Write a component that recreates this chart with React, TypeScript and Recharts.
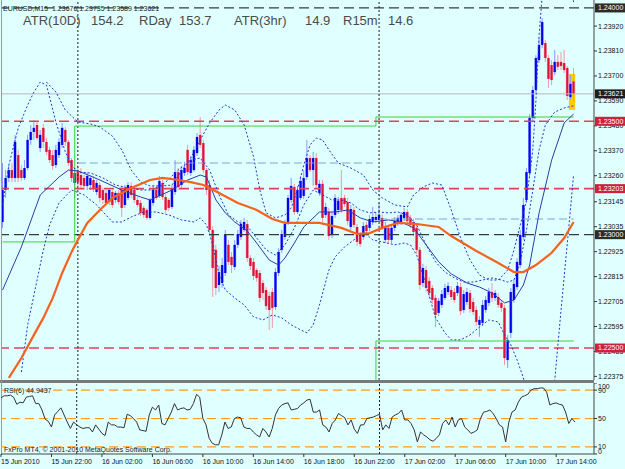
import React from "react";
import {
  ComposedChart,
  Bar,
  Line,
  XAxis,
  YAxis,
  ReferenceLine,
  ReferenceArea,
} from "recharts";

const FONT = '"Liberation Sans", Arial, sans-serif';
const BG = "#e0ffff";

// EURUSD M15, first bar 15 Jun 18:00, last bar 17 Jun 15:30
const open = [
  1.23056, 1.23197, 1.2325, 1.23285, 1.2325, 1.23351, 1.23285, 1.2325, 1.23294, 1.23418,
  1.23453, 1.23484, 1.23382, 1.23471, 1.23409, 1.23374, 1.23351, 1.23307, 1.23351, 1.23396,
  1.23462, 1.23409, 1.23329, 1.23228, 1.23276, 1.23263, 1.2325, 1.23215, 1.23219, 1.23241,
  1.23188, 1.23219, 1.23197, 1.23184, 1.23144, 1.23188, 1.23153, 1.23184, 1.23197, 1.23131,
  1.23162, 1.23215, 1.23197, 1.23153, 1.2314, 1.23118, 1.23109, 1.23074, 1.2314, 1.23197,
  1.23171, 1.23228, 1.23166, 1.23153, 1.23122, 1.23188, 1.23276, 1.23219, 1.23272, 1.23374,
  1.23272, 1.23285, 1.2336, 1.2344, 1.23404, 1.23285, 1.23219, 1.23021, 1.22933, 1.22778,
  1.22787, 1.22831, 1.22955, 1.22902, 1.22858, 1.22955, 1.2299, 1.23021, 1.23047, 1.22897,
  1.2288, 1.22844, 1.22831, 1.22787, 1.22756, 1.2273, 1.22747, 1.22681, 1.22831, 1.22933,
  1.2299, 1.23056, 1.23153, 1.2321, 1.231, 1.23162, 1.23171, 1.23254, 1.23338, 1.23285,
  1.23338, 1.23184, 1.23224, 1.23087, 1.231, 1.22999, 1.23087, 1.23109, 1.23162, 1.23162,
  1.23144, 1.23034, 1.23109, 1.23034, 1.22999, 1.2299, 1.23043, 1.2303, 1.23056, 1.23065,
  1.23065, 1.23074, 1.22977, 1.2303, 1.22977, 1.2303, 1.23052, 1.23056, 1.23074, 1.231,
  1.23074, 1.23056, 1.2303, 1.22933, 1.22787, 1.22844, 1.22796, 1.22765, 1.22721, 1.22655,
  1.2269, 1.22721, 1.22747, 1.22756, 1.22747, 1.22743, 1.22769, 1.22668, 1.22703, 1.22743,
  1.22703, 1.22668, 1.22602, 1.22611, 1.22668, 1.22699, 1.22747, 1.22721, 1.22725, 1.22699,
  1.22677, 1.22447, 1.22567, 1.22712, 1.22769, 1.22866, 1.2299, 1.23153, 1.23272, 1.23515,
  1.23638, 1.2377, 1.23837, 1.23845, 1.23779, 1.23748, 1.23717, 1.23762, 1.23762, 1.23757,
  1.23735, 1.23607, 1.23676,
];
const high = [
  1.23316, 1.23285, 1.23307, 1.23316, 1.2344, 1.23374, 1.23307, 1.23329, 1.2344, 1.23484,
  1.23506, 1.23501, 1.23462, 1.23488, 1.23426, 1.23387, 1.23374, 1.23396, 1.23426, 1.23493,
  1.23475, 1.23418, 1.23338, 1.23294, 1.23307, 1.23294, 1.23263, 1.23276, 1.23263, 1.23259,
  1.23241, 1.23232, 1.23206, 1.23197, 1.23206, 1.23197, 1.23193, 1.23197, 1.23215, 1.23219,
  1.23232, 1.23232, 1.23206, 1.23166, 1.23153, 1.23127, 1.23118, 1.23162, 1.23215, 1.23215,
  1.23259, 1.23241, 1.23179, 1.23162, 1.23219, 1.23329, 1.23294, 1.23303, 1.23321, 1.23396,
  1.23347, 1.23391, 1.23448, 1.23519, 1.23418, 1.23294, 1.23241, 1.23038, 1.22955, 1.22862,
  1.22897, 1.23021, 1.22977, 1.22924, 1.22977, 1.23021, 1.23065, 1.23074, 1.23065, 1.2291,
  1.22897, 1.22853, 1.22844, 1.228, 1.22769, 1.22747, 1.22765, 1.22853, 1.22941, 1.23021,
  1.23065, 1.23175, 1.2325, 1.23224, 1.23215, 1.23259, 1.23285, 1.23418, 1.23351, 1.23365,
  1.2336, 1.23241, 1.23241, 1.2314, 1.23118, 1.231, 1.23179, 1.23166, 1.23285, 1.23175,
  1.23162, 1.23131, 1.23122, 1.23047, 1.23012, 1.23056, 1.23056, 1.23087, 1.23122, 1.231,
  1.2314, 1.23091, 1.23056, 1.23043, 1.23047, 1.23078, 1.23087, 1.231, 1.23118, 1.23113,
  1.23087, 1.23069, 1.23047, 1.22946, 1.22871, 1.22862, 1.22813, 1.22778, 1.22734, 1.22721,
  1.22756, 1.22783, 1.22791, 1.22774, 1.22765, 1.22791, 1.22787, 1.22756, 1.22765, 1.22756,
  1.22721, 1.22685, 1.22641, 1.22712, 1.2273, 1.22765, 1.22787, 1.22756, 1.22743, 1.22712,
  1.2269, 1.22558, 1.22765, 1.228, 1.22897, 1.23021, 1.23162, 1.23294, 1.23532, 1.23656,
  1.23792, 1.23867, 1.23956, 1.23859, 1.23792, 1.2377, 1.23815, 1.23792, 1.23806, 1.23815,
  1.23744, 1.23704, 1.23735,
];
const low = [
  1.2303, 1.23162, 1.23232, 1.23232, 1.23232, 1.23232, 1.23237, 1.23241, 1.23285, 1.23396,
  1.23418, 1.23418, 1.23365, 1.23382, 1.23351, 1.23316, 1.23285, 1.23294, 1.23338, 1.23382,
  1.23391, 1.23303, 1.23232, 1.23162, 1.23215, 1.23206, 1.23197, 1.23197, 1.23197, 1.23188,
  1.23175, 1.23144, 1.23135, 1.23127, 1.23131, 1.23118, 1.2314, 1.23131, 1.23078, 1.23118,
  1.23153, 1.23162, 1.2314, 1.23122, 1.23082, 1.23074, 1.23065, 1.23065, 1.23127, 1.23153,
  1.23162, 1.23153, 1.23096, 1.23104, 1.23113, 1.23175, 1.23197, 1.23206, 1.23259, 1.23263,
  1.23259, 1.23276, 1.23347, 1.23382, 1.23272, 1.23175, 1.22999, 1.22725, 1.22734, 1.22747,
  1.22765, 1.22818, 1.22866, 1.22831, 1.22844, 1.22941, 1.22977, 1.23012, 1.2288, 1.22844,
  1.228, 1.22791, 1.22703, 1.22712, 1.22668, 1.2258, 1.22589, 1.22668, 1.22818, 1.2292,
  1.22977, 1.23043, 1.2314, 1.23087, 1.23091, 1.23153, 1.23157, 1.23241, 1.23276, 1.23215,
  1.23206, 1.23171, 1.23056, 1.23074, 1.22977, 1.22985, 1.23074, 1.23091, 1.23096, 1.23122,
  1.23043, 1.23021, 1.2303, 1.2295, 1.22946, 1.22977, 1.23003, 1.23016, 1.23043, 1.23052,
  1.23056, 1.23021, 1.22963, 1.22963, 1.22963, 1.23016, 1.23038, 1.23043, 1.2306, 1.23047,
  1.2303, 1.22994, 1.22915, 1.22756, 1.22769, 1.22747, 1.22725, 1.22694, 1.22593, 1.22641,
  1.22677, 1.22712, 1.22734, 1.22712, 1.22699, 1.2273, 1.22646, 1.22655, 1.2269, 1.22655,
  1.22646, 1.22597, 1.22549, 1.22597, 1.22655, 1.22685, 1.22703, 1.22708, 1.22677, 1.22659,
  1.22425, 1.22412, 1.22544, 1.22699, 1.22756, 1.22853, 1.22977, 1.2314, 1.23259, 1.23497,
  1.23625, 1.23757, 1.23823, 1.23762, 1.23647, 1.2366, 1.23704, 1.23726, 1.23726, 1.23713,
  1.23594, 1.23594, 1.23589,
];
const close = [
  1.23197, 1.2325, 1.23285, 1.2325, 1.23409, 1.2325, 1.2325, 1.23294, 1.23418, 1.23453,
  1.23471, 1.23426, 1.2344, 1.23409, 1.23365, 1.23329, 1.23303, 1.23374, 1.23409, 1.23471,
  1.23409, 1.23316, 1.2325, 1.23272, 1.23232, 1.23219, 1.23215, 1.23259, 1.2325, 1.23206,
  1.23228, 1.23162, 1.23153, 1.2314, 1.23197, 1.23131, 1.23184, 1.23144, 1.23118, 1.23206,
  1.23219, 1.23175, 1.23153, 1.23131, 1.23096, 1.23087, 1.23074, 1.23153, 1.23197, 1.23162,
  1.23237, 1.23166, 1.23109, 1.23118, 1.23206, 1.23276, 1.2321, 1.23285, 1.23294, 1.23276,
  1.23329, 1.23374, 1.23431, 1.23396, 1.23285, 1.23197, 1.23021, 1.22853, 1.22765, 1.22835,
  1.22866, 1.22999, 1.2288, 1.22866, 1.22955, 1.23003, 1.23047, 1.23056, 1.22897, 1.22862,
  1.22818, 1.22809, 1.22721, 1.22743, 1.22685, 1.22668, 1.22677, 1.22835, 1.22924, 1.23003,
  1.23047, 1.23162, 1.23215, 1.231, 1.23197, 1.23237, 1.2325, 1.23338, 1.23285, 1.23338,
  1.23219, 1.23224, 1.23074, 1.23122, 1.22994, 1.23082, 1.23162, 1.23149, 1.23109, 1.23135,
  1.2306, 1.23113, 1.23043, 1.22968, 1.22959, 1.23038, 1.23016, 1.23069, 1.23078, 1.23078,
  1.23087, 1.23034, 1.23038, 1.22977, 1.2303, 1.2306, 1.23074, 1.23087, 1.231, 1.2306,
  1.23043, 1.23012, 1.22933, 1.22778, 1.22853, 1.22765, 1.22743, 1.22712, 1.22646, 1.22708,
  1.22738, 1.22765, 1.22774, 1.22725, 1.22712, 1.22774, 1.22663, 1.22738, 1.22747, 1.22672,
  1.22659, 1.22615, 1.22624, 1.2269, 1.22712, 1.22747, 1.22721, 1.22743, 1.2269, 1.22677,
  1.22456, 1.22536, 1.22747, 1.22783, 1.2288, 1.22999, 1.23131, 1.23276, 1.23515, 1.23638,
  1.23779, 1.23837, 1.23938, 1.23779, 1.23687, 1.23682, 1.23762, 1.2374, 1.23744, 1.23726,
  1.23612, 1.23665, 1.23621,
];

const rsi6 = [
  79, 82, 82, 83, 80, 70, 73, 72, 80, 81, 82, 71, 71, 62, 49, 46, 38, 55, 60, 65,
  55, 45, 36, 45, 41, 38, 36, 37, 37, 31, 41, 35, 29, 26, 45, 41, 41, 38, 38, 37,
  56, 54, 50, 45, 34, 33, 32, 55, 66, 62, 69, 43, 41, 50, 59, 71, 62, 64, 65, 62,
  63, 71, 84, 80, 50, 41, 22, 15, 13, 13, 27, 45, 36, 38, 50, 52, 51, 38, 36, 36,
  31, 27, 24, 36, 31, 24, 36, 55, 64, 69, 71, 72, 62, 63, 64, 69, 72, 76, 77, 59,
  59, 62, 41, 38, 31, 43, 48, 57, 54, 51, 41, 48, 35, 29, 41, 41, 50, 51, 52, 54,
  56, 34, 41, 36, 52, 55, 57, 62, 48, 48, 43, 34, 17, 31, 27, 24, 20, 18, 22, 27,
  43, 48, 41, 52, 38, 48, 50, 38, 34, 29, 31, 34, 50, 59, 60, 62, 57, 50, 41, 38,
  17, 45, 59, 62, 73, 80, 82, 84, 90, 92, 92, 93, 93, 87, 69, 71, 72, 70, 69, 59,
  43, 50, 44.9437,
];

// indicator lines as [bar, price]
const slowMa: [number, number][] = [
  [2, 1.22368], [6, 1.22456], [10, 1.22558], [13, 1.22633], [16, 1.22721], [19, 1.22831],
  [22, 1.22924], [24, 1.22977], [27, 1.23052], [31, 1.23109], [35, 1.23162], [41, 1.23206],
  [47, 1.23241], [51, 1.2325], [56, 1.23241], [60, 1.23232], [64, 1.23219], [69, 1.23184],
  [75, 1.2314], [81, 1.23109], [86, 1.23069], [90, 1.23052], [95, 1.23052], [101, 1.23052],
  [108, 1.2303], [113, 1.23003], [117, 1.23007], [121, 1.2303], [126, 1.23052], [132, 1.23047],
  [139, 1.23034], [143, 1.22994], [151, 1.22928], [158, 1.22875], [163, 1.22835], [166, 1.22835],
  [170, 1.22866], [175, 1.2292], [179, 1.22985], [182, 1.23056],
];
const fastMa: [number, number][] = [
  [0, 1.22756], [6, 1.22946], [12, 1.23175], [18, 1.23254], [21, 1.23285], [24, 1.23281],
  [28, 1.23259], [31, 1.23241], [38, 1.23197], [44, 1.23166], [47, 1.23153], [54, 1.23197],
  [59, 1.23241], [63, 1.23263], [65, 1.23254], [68, 1.23153], [71, 1.23096], [74, 1.23056],
  [78, 1.23016], [81, 1.22963], [85, 1.22888], [88, 1.22866], [90, 1.22897], [93, 1.22963],
  [96, 1.23034], [101, 1.231], [106, 1.231], [110, 1.23109], [114, 1.23074], [118, 1.23056],
  [123, 1.23065], [127, 1.23056], [131, 1.2303], [135, 1.22955], [139, 1.2288], [143, 1.22827],
  [148, 1.22787], [152, 1.22769], [156, 1.22743], [160, 1.22699], [163, 1.22712], [166, 1.22778],
  [168, 1.22866], [171, 1.23096], [175, 1.23329], [179, 1.23493], [182, 1.23532],
];
const bandUpper: [number, number][] = [
  [14, 1.23673], [17, 1.23629], [20, 1.2355], [24, 1.23497], [28, 1.23488], [31, 1.23475],
  [35, 1.23435], [38, 1.23374], [41, 1.23285], [44, 1.23232], [47, 1.23215], [51, 1.23215],
  [54, 1.23219], [57, 1.2328], [60, 1.23338], [63, 1.23418], [66, 1.23493], [69, 1.2355],
  [71, 1.23572], [74, 1.2355], [77, 1.23484], [80, 1.23343], [82, 1.23197], [84, 1.23096],
  [87, 1.23074], [90, 1.23087], [92, 1.23118], [94, 1.232], [96, 1.23307], [98, 1.23396],
  [100, 1.23426], [102, 1.23418], [104, 1.23374], [107, 1.23316], [111, 1.23294], [115, 1.23263],
  [118, 1.23197], [121, 1.23162], [125, 1.23131], [129, 1.23122], [131, 1.23175], [134, 1.2321],
  [137, 1.23228], [140, 1.23219], [143, 1.23109], [146, 1.22985], [149, 1.22888], [152, 1.22822],
  [155, 1.228], [158, 1.228], [161, 1.22844], [163, 1.22933], [165, 1.23043], [167, 1.23153],
  [169, 1.23374], [170, 1.23594], [171, 1.23881], [172, 1.24057], [174, 1.24211], [178, 1.24233],
  [181, 1.24123], [182, 1.24026],
];
const bandInner: [number, number][] = [
  [0, 1.23131], [2, 1.23307], [5, 1.23471], [8, 1.23572], [10, 1.23629], [12, 1.23673],
  [14, 1.2366], [17, 1.23497], [20, 1.23365], [22, 1.23307], [24, 1.23276], [28, 1.23272],
  [32, 1.2325], [36, 1.23219], [40, 1.23206], [44, 1.23197], [48, 1.23197], [52, 1.23232],
  [56, 1.23285], [60, 1.23329], [63, 1.23338], [66, 1.23285], [69, 1.23175], [72, 1.23087],
  [75, 1.23056], [78, 1.23038], [81, 1.22985], [84, 1.22933], [87, 1.2291], [90, 1.22955],
  [93, 1.2303], [96, 1.23131], [99, 1.23197], [102, 1.23175], [105, 1.23153], [108, 1.23153],
  [111, 1.2314], [114, 1.23109], [117, 1.23096], [120, 1.231], [123, 1.23096], [126, 1.231],
  [129, 1.23087], [132, 1.23043], [135, 1.22955], [138, 1.2288], [141, 1.22835], [144, 1.22809],
  [147, 1.22791], [150, 1.22791], [153, 1.228], [156, 1.22809], [159, 1.228], [161, 1.22791],
  [163, 1.228], [165, 1.2288], [167, 1.23021], [169, 1.23197], [171, 1.23374], [173, 1.23484],
  [176, 1.23541], [179, 1.23559], [182, 1.23568],
];
const bandLower: [number, number][] = [
  [6, 1.22394], [8, 1.22602], [11, 1.228], [13, 1.22933], [15, 1.23043], [18, 1.2314],
  [22, 1.23197], [26, 1.23175], [30, 1.23131], [35, 1.23056], [38, 1.23056], [41, 1.23078],
  [45, 1.231], [49, 1.231], [53, 1.23087], [57, 1.23065], [61, 1.23056], [63, 1.23074],
  [65, 1.23043], [67, 1.22955], [69, 1.22822], [71, 1.22756], [74, 1.22721], [77, 1.2269],
  [80, 1.22637], [83, 1.22624], [86, 1.22646], [89, 1.22633], [92, 1.22602], [95, 1.2258],
  [97, 1.22567], [99, 1.22602], [101, 1.2269], [104, 1.22844], [106, 1.22902], [109, 1.22946],
  [112, 1.22977], [115, 1.23012], [118, 1.22977], [121, 1.22968], [125, 1.22955], [128, 1.22963],
  [130, 1.22955], [132, 1.2291], [135, 1.22778], [138, 1.22633], [141, 1.22567], [143, 1.22536],
  [146, 1.22536], [149, 1.22558], [152, 1.22593], [155, 1.22624], [158, 1.22615], [160, 1.22558],
  [162, 1.22514], [164, 1.22447], [166, 1.22368], [168, 1.22222], [171, 1.22046], [174, 1.22095],
  [176, 1.22359], [178, 1.22668], [180, 1.22963], [182, 1.23263],
];

// [fromBar, toBar, price]
const greenUpper = [[0, 23, 1.22968], [24, 119, 1.23479], [120, 182, 1.23519]];
const greenLower = [[24, 119, 1.223], [120, 182, 1.22531]];
const dayRefs = [[24, 118, 1.23316], [120, 182, 1.23069]];

const redLevels = [1.235, 1.23203, 1.225];
const darkLevels = [1.24, 1.23];
const lastPrice = 1.23621;
const daySeparators = [24, 120];
const highlight = { x1: 181, x2: 182, y1: 1.2355, y2: 1.23709 };

const priceTicks = [
  1.2392, 1.2381, 1.237, 1.2359, 1.2348, 1.2337, 1.2326, 1.23145, 1.23035, 1.22925,
  1.22815, 1.22705, 1.22595, 1.22485, 1.22375,
];
const boxedLevels = [
  { value: 1.24, color: "#2e2a24" },
  { value: 1.23621, color: "#1e1e1e" },
  { value: 1.235, color: "#d11f3e" },
  { value: 1.23203, color: "#d11f3e" },
  { value: 1.23, color: "#2e2a24" },
  { value: 1.225, color: "#d11f3e" },
];

const timeTicks = [0, 16, 32, 48, 64, 80, 96, 112, 128, 144, 160, 176];
const timeLabels = [
  "15 Jun 2010", "15 Jun 22:00", "16 Jun 02:00", "16 Jun 06:00", "16 Jun 10:00",
  "16 Jun 14:00", "16 Jun 18:00", "16 Jun 22:00", "17 Jun 02:00", "17 Jun 06:00",
  "17 Jun 10:00", "17 Jun 14:00",
];
const rsiLevels = [90, 50, 10];
const rsiTicks = [100, 90, 50, 10, 0];

const SLOTS = 189;

const pick = (segs: number[][], i: number) => {
  for (const [a, b, v] of segs) if (i >= a && i <= b) return v;
  return null;
};
const slowMap = new Map(slowMa);
const fastMap = new Map(fastMa);
const upMap = new Map(bandUpper);
const inMap = new Map(bandInner);
const loMap = new Map(bandLower);

const rows = Array.from({ length: SLOTS }, (_, i) => {
  const has = i < close.length;
  return {
    i,
    o: has ? open[i] : null,
    h: has ? high[i] : null,
    l: has ? low[i] : null,
    c: has ? close[i] : null,
    hl: has ? [low[i], high[i]] : null,
    rsi: has ? rsi6[i] : null,
    slow: slowMap.get(i) ?? null,
    fast: fastMap.get(i) ?? null,
    up: upMap.get(i) ?? null,
    inner: inMap.get(i) ?? null,
    lo: loMap.get(i) ?? null,
    gTop: pick(greenUpper, i),
    gLow: pick(greenLower, i),
    dref: pick(dayRefs, i),
  };
});

function Candle(props: any) {
  const { x, y, width, height, payload } = props;
  if (!payload || payload.o == null || x == null) return <g />;
  const cx = x + width / 2;
  const span = payload.h - payload.l || 1e-9;
  const py = (v: number) => y + ((payload.h - v) / span) * height;
  const up = payload.c >= payload.o;
  const top = py(Math.max(payload.o, payload.c));
  const bh = Math.max(py(Math.min(payload.o, payload.c)) - top, 1);
  const light = up ? "#8f98ff" : "#f09aa6";
  const dark = up ? "#0000ee" : "#dc143c";
  return (
    <g>
      <rect x={cx - 0.5} y={y} width={1} height={Math.max(height, 1)} fill={light} />
      <rect x={cx - 1.5} y={top} width={3} height={bh} fill={light} />
      <rect x={cx - 1} y={top} width={2} height={bh} fill={dark} />
    </g>
  );
}

function PriceTick(p: any) {
  const v = p.payload.value;
  const ax = p.x - 8;
  const box = boxedLevels.find((b) => Math.abs(b.value - v) < 1e-7);
  if (box) {
    return (
      <g>
        <rect x={ax + 1} y={p.y - 4.5} width={31} height={9} fill={box.color} />
        <text x={ax + 4} y={p.y} dy="0.35em" fontSize={7} fill="#ffffff" fontFamily={FONT}>
          {v.toFixed(5)}
        </text>
      </g>
    );
  }
  return (
    <g>
      <line x1={ax} x2={ax + 3} y1={p.y} y2={p.y} stroke="#333" />
      <text x={ax + 4} y={p.y} dy="0.35em" fontSize={7} fill="#111" fontFamily={FONT}>
        {v.toFixed(5)}
      </text>
    </g>
  );
}

function RsiTick(p: any) {
  const v = p.payload.value;
  const ax = p.x - 8;
  const shift = v === 100 ? 4 : v === 0 ? -2 : 0;
  return (
    <g>
      <line x1={ax} x2={ax + 3} y1={p.y} y2={p.y} stroke="#333" />
      <text x={ax + 4} y={p.y + shift} dy="0.35em" fontSize={7} fill="#111" fontFamily={FONT}>
        {v}
      </text>
    </g>
  );
}

function TimeTick(p: any) {
  const label = timeLabels[timeTicks.indexOf(p.payload.value)];
  return (
    <g>
      <line x1={p.x} x2={p.x} y1={p.y - 8} y2={p.y - 5} stroke="#333" />
      <text x={p.x} y={p.y} dy={2} fontSize={7} fill="#111" fontFamily={FONT}>
        {label}
      </text>
    </g>
  );
}

const dotted = { stroke: "#2136c8", strokeWidth: 1, strokeDasharray: "2 2" };

const small: React.CSSProperties = {
  position: "absolute",
  fontFamily: FONT,
  fontSize: 7,
  color: "#222",
  whiteSpace: "nowrap",
  lineHeight: 1,
};
const big: React.CSSProperties = {
  position: "absolute",
  fontFamily: FONT,
  fontSize: 13,
  color: "#4a4a4a",
  whiteSpace: "nowrap",
  lineHeight: 1,
  top: 14,
};

export default function App() {
  return (
    <div
      style={{
        position: "absolute",
        left: 0,
        top: 0,
        width: 625,
        height: 469,
        background: BG,
        overflow: "hidden",
        fontFamily: FONT,
      }}
    >
      <div style={{ position: "absolute", left: 0, top: 0 }}>
        <ComposedChart width={625} height={380} data={rows} margin={{ top: 0, right: 0, bottom: 0, left: 1 }}>
          <XAxis dataKey="i" type="category" hide />
          <YAxis
            orientation="right"
            width={31}
            domain={[1.22359, 1.24035]}
            allowDataOverflow
            ticks={[...priceTicks, ...boxedLevels.map((b) => b.value)]}
            interval={0}
            tick={(p: any) => <PriceTick {...p} />}
            tickLine={false}
            axisLine={{ stroke: "#444" }}
          />
          <ReferenceArea
            x1={highlight.x1}
            x2={highlight.x2}
            y1={highlight.y1}
            y2={highlight.y2}
            fill="#ffcc00"
            fillOpacity={1}
            stroke="none"
          />
          <ReferenceLine y={lastPrice} stroke="#b8b8b8" />
          {darkLevels.map((v) => (
            <ReferenceLine key={v} y={v} stroke="#3a3a3a" strokeWidth={1.3} strokeDasharray="10 5" />
          ))}
          {redLevels.map((v) => (
            <ReferenceLine key={v} y={v} stroke="#e2405c" strokeWidth={1.6} strokeDasharray="10 5" />
          ))}
          {daySeparators.map((x) => (
            <ReferenceLine key={x} x={x} stroke="#222" strokeDasharray="2 2" />
          ))}
          <Line dataKey="dref" stroke="#7f9fd6" strokeDasharray="8 4" dot={false} isAnimationActive={false} />
          <Line dataKey="gTop" type="stepBefore" stroke="#3ccf3c" dot={false} isAnimationActive={false} />
          <Line dataKey="gLow" type="stepBefore" stroke="#3ccf3c" dot={false} isAnimationActive={false} />
          <Bar dataKey="hl" barSize={3} isAnimationActive={false} shape={(p: any) => <Candle {...p} />} />
          <Line dataKey="up" {...dotted} connectNulls dot={false} isAnimationActive={false} />
          <Line dataKey="inner" {...dotted} connectNulls dot={false} isAnimationActive={false} />
          <Line dataKey="lo" {...dotted} connectNulls dot={false} isAnimationActive={false} />
          <Line dataKey="fast" stroke="#2c3ca6" strokeWidth={1} connectNulls dot={false} isAnimationActive={false} />
          <Line dataKey="slow" stroke="#f4621e" strokeWidth={2.2} connectNulls dot={false} isAnimationActive={false} />
        </ComposedChart>
      </div>

      <div style={{ position: "absolute", left: 0, top: 380, width: 594, height: 3, background: "#7a7a7a" }} />
      <div style={{ position: "absolute", left: 1, top: 0, width: 1, height: 455, background: "#9a9a9a" }} />

      <div style={{ position: "absolute", left: 0, top: 383 }}>
        <ComposedChart width={625} height={86} data={rows} margin={{ top: 0, right: 0, bottom: 0, left: 1 }}>
          <XAxis
            dataKey="i"
            type="category"
            ticks={timeTicks}
            interval={0}
            height={15}
            tick={(p: any) => <TimeTick {...p} />}
            tickLine={false}
            axisLine={{ stroke: "#444" }}
          />
          <YAxis
            orientation="right"
            width={31}
            domain={[0, 100]}
            ticks={rsiTicks}
            interval={0}
            tick={(p: any) => <RsiTick {...p} />}
            tickLine={false}
            axisLine={{ stroke: "#444" }}
          />
          {rsiLevels.map((v) => (
            <ReferenceLine key={v} y={v} stroke="#ff9a1a" strokeWidth={1.2} strokeDasharray="9 5" />
          ))}
          {daySeparators.map((x) => (
            <ReferenceLine key={x} x={x} stroke="#222" strokeDasharray="2 2" />
          ))}
          <Line dataKey="rsi" stroke="#333" strokeWidth={1} dot={false} isAnimationActive={false} />
        </ComposedChart>
      </div>

      <div style={{ ...small, left: 3, top: 5 }}>EURUSD,M15&nbsp; 1.23676 1.23735 1.23589 1.23621</div>
      <div style={{ ...big, left: 23 }}>ATR(10D)</div>
      <div style={{ ...big, left: 91 }}>154.2</div>
      <div style={{ ...big, left: 139 }}>RDay</div>
      <div style={{ ...big, left: 179 }}>153.7</div>
      <div style={{ ...big, left: 234 }}>ATR(3hr)</div>
      <div style={{ ...big, left: 305 }}>14.9</div>
      <div style={{ ...big, left: 343 }}>R15m</div>
      <div style={{ ...big, left: 388 }}>14.6</div>
      <div style={{ ...small, left: 4, top: 387 }}>RSI(6) 44.9437</div>
      <div style={{ ...small, left: 4, top: 446 }}>FxPro MT4, © 2001-2010 MetaQuotes Software Corp.</div>
    </div>
  );
}
